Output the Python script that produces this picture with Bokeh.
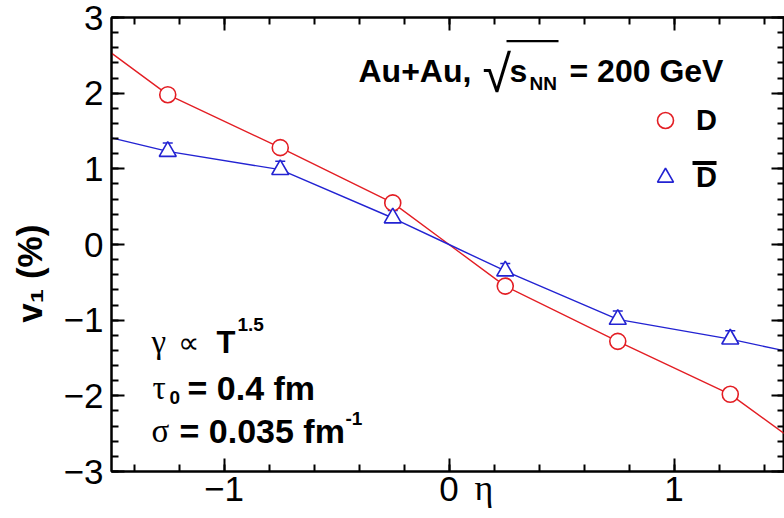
from math import pi
from bokeh.plotting import figure
from bokeh.models import (Range1d, LinearAxis, SingleIntervalTicker, Label, Whisker,
                          TeeHead, ColumnDataSource, Legend, LegendItem, BoxAnnotation)
from bokeh.embed import file_html
from bokeh.resources import INLINE

# ---------------- data ----------------
eta_points = [-1.25, -0.75, -0.25, 0.25, 0.75, 1.25]
v1_D = [1.98, 1.28, 0.55, -0.55, -1.28, -1.98]
v1_Dbar = [1.23, 0.99, 0.35, -0.35, -0.99, -1.25]
err_Dbar = [0.11, 0.11, 0.10, 0.10, 0.11, 0.11]

eta_curve = [-1.5, -1.25, -0.75, -0.25, 0.0, 0.25, 0.75, 1.25, 1.5]
curve_D = [2.53, 1.98, 1.28, 0.55, 0.0, -0.55, -1.28, -1.98, -2.52]
curve_Dbar = [1.41, 1.23, 0.99, 0.35, 0.0, -0.35, -0.99, -1.25, -1.41]

y_ticks = [-3, -2, -1, 0, 1, 2, 3]
y_tick_labels = ["\u22123", "\u22122", "\u22121", "0", "1", "2", "3"]
x_ticks = [-1, 0, 1]
x_tick_labels = ["\u22121", "0", "1"]

RED = "#e31e24"
BLUE = "#2323d2"
FONT = "Liberation Sans"
SERIF = "Liberation Serif"

# frame geometry helpers (canvas px -> data) for annotation placement
FL, FT, SX, SY = 111.0, 17.0, 225.0, 75.67
def X(px):
    return -1.5 + (px - FL) / SX
def Y(py):
    return 3.0 - (py - FT) / SY

p = figure(width=784, height=518, x_range=Range1d(-1.5, 1.491), y_range=Range1d(-3, 3),
           output_backend="svg", toolbar_location=None,
           x_axis_type=None, y_axis_type=None,
           min_border_left=111, min_border_right=0, min_border_top=17, min_border_bottom=47)
p.outline_line_color = "black"
p.outline_line_width = 2
p.background_fill_color = "white"
p.border_fill_color = "white"

def style_axis(ax):
    ax.major_tick_in = 13
    ax.major_tick_out = 0
    ax.minor_tick_in = 7
    ax.minor_tick_out = 0
    ax.axis_line_width = 2
    ax.major_tick_line_width = 2
    ax.minor_tick_line_width = 2
    ax.axis_line_color = "black"
    ax.major_tick_line_color = "black"
    ax.minor_tick_line_color = "black"
    ax.major_label_text_font = FONT
    ax.major_label_text_font_size = "35px"
    ax.major_label_text_color = "black"

yl = LinearAxis(ticker=SingleIntervalTicker(interval=1, num_minor_ticks=5))
style_axis(yl)
yl.major_label_overrides = dict(zip(y_ticks, y_tick_labels))
yl.major_label_standoff = 8
yl.axis_label = "v\u2081 (%)" + "\u00a0" * 6
yl.axis_label_text_font = FONT
yl.axis_label_text_font_style = "bold"
yl.axis_label_text_font_size = "35px"
yl.axis_label_text_color = "black"
yl.axis_label_standoff = 12
p.add_layout(yl, "left")

xb = LinearAxis(ticker=SingleIntervalTicker(interval=1, num_minor_ticks=5))
style_axis(xb)
xb.major_label_overrides = dict(zip(x_ticks, x_tick_labels))
xb.major_label_standoff = 5
xb.axis_label = "\u00a0" * 8 + "\u03b7"
xb.axis_label_text_font = SERIF
xb.axis_label_text_font_style = "normal"
xb.axis_label_text_font_size = "36px"
xb.axis_label_text_color = "black"
xb.axis_label_standoff = -36
p.add_layout(xb, "below")

xt = LinearAxis(ticker=SingleIntervalTicker(interval=1, num_minor_ticks=5))
style_axis(xt)
xt.major_label_overrides = {t: "" for t in [-1, 0, 1]}
xt.major_label_text_font_size = "0px"
xt.major_label_standoff = 0
p.add_layout(xt, "above")

yr = LinearAxis(ticker=SingleIntervalTicker(interval=1, num_minor_ticks=5))
style_axis(yr)
yr.major_label_overrides = {t: "" for t in y_ticks}
yr.major_label_text_font_size = "0px"
yr.major_label_standoff = 0
p.add_layout(yr, "right")

# ---------------- curves and points ----------------
p.line(eta_curve, curve_D, line_color=RED, line_width=1.4)
p.line(eta_curve, curve_Dbar, line_color=BLUE, line_width=1.4)

src_b = ColumnDataSource(dict(x=eta_points, lo=v1_Dbar,
                              hi=[v + e for v, e in zip(v1_Dbar, err_Dbar)]))
wh = Whisker(source=src_b, base="x", lower="lo", upper="hi", dimension="height",
             line_color=BLUE, line_width=1.5,
             upper_head=TeeHead(size=10, line_color=BLUE, line_width=1.5), lower_head=None)
p.add_layout(wh)

r_D = p.scatter(eta_points, v1_D, marker="circle", size=16, line_color=RED,
                fill_color="white", line_width=1.6)
r_Db = p.scatter(eta_points, v1_Dbar, marker="triangle", size=17, line_color=BLUE,
                 fill_color="white", line_width=1.6)

legend = Legend(items=[LegendItem(label="D", renderers=[r_D]),
                       LegendItem(label="D\u0304", renderers=[r_Db])],
                location=(534, 274), glyph_width=40, glyph_height=40, label_height=40,
                spacing=17, label_standoff=11, padding=0, margin=0,
                border_line_color=None, background_fill_alpha=0,
                label_text_font=FONT, label_text_font_style="bold",
                label_text_font_size="29px", label_text_color="black")
p.add_layout(legend)
# wide anti-bar stroke over the second legend label (as in the reference)
p.add_layout(BoxAnnotation(left=X(692), right=X(716), top=Y(160.5), bottom=Y(164.5),
                           fill_color="black", fill_alpha=1, line_color=None))

# ---------------- texts ----------------
def lab(text, px, py, size, font=FONT, style="bold"):
    p.add_layout(Label(x=X(px), y=Y(py), text=text, text_font=font, text_font_style=style,
                       text_font_size=size, text_color="black", text_align="left",
                       text_baseline="alphabetic"))

# collision system & energy
lab("Au+Au,", 358, 71, "32px")
lab("\u221a", 482, 74, "52px", font=FONT, style="normal")
p.add_layout(BoxAnnotation(left=X(506), right=X(558), top=Y(39.5), bottom=Y(41.7),
                           fill_color="black", fill_alpha=1, line_color=None))
lab("s", 509, 71, "32px")
lab("NN", 529, 83, "19px")
lab("= 200 GeV", 569, 71, "32px")

# model parameters
lab("\u03b3", 151, 342, "33px", font=SERIF, style="normal")
lab("\u221d", 177, 342, "30px", font=SERIF, style="normal")
lab("T", 216, 342, "31px")
lab("1.5", 237, 324, "19px")

lab("\u03c4", 152, 388, "33px", font=SERIF, style="normal")
lab("0", 169, 397, "19px")
lab("= 0.4 fm", 187, 388, "34px")

lab("\u03c3", 151, 431, "33px", font=SERIF, style="normal")
lab("= 0.035 fm", 179, 431, "34px")
lab("-1", 345, 418, "19px")

open("out.html", "w").write(file_html(p, INLINE))
